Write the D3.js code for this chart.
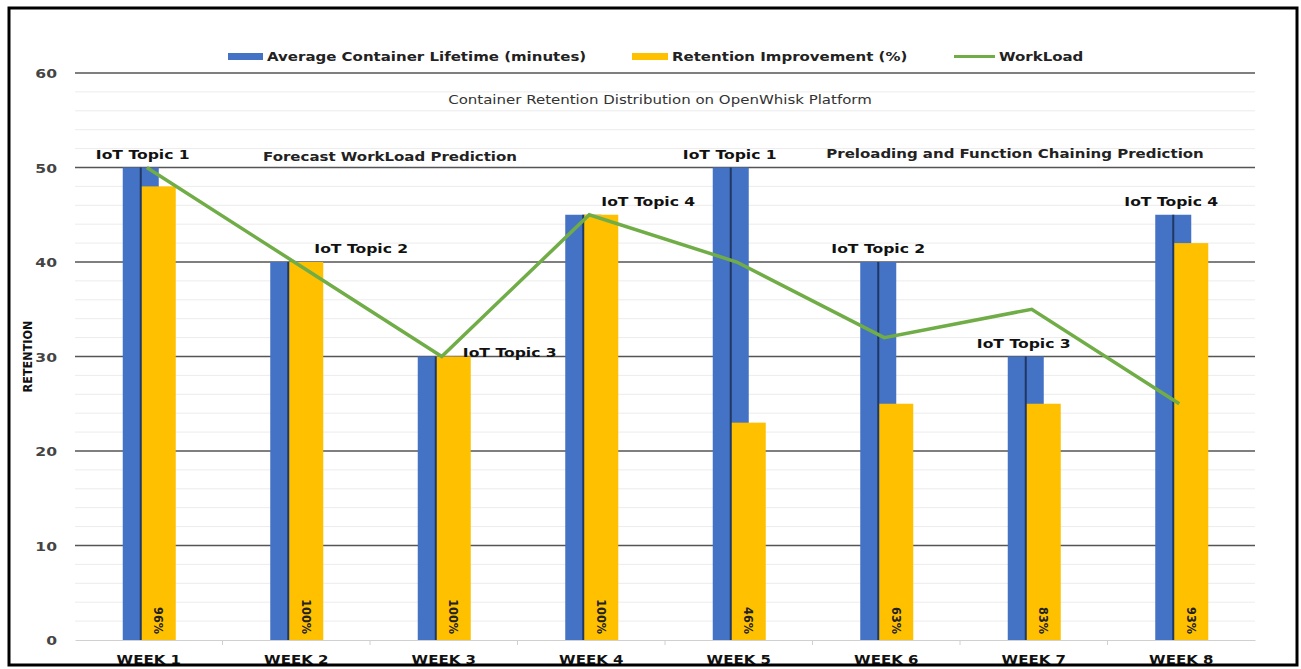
<!DOCTYPE html>
<html>
<head>
<meta charset="utf-8">
<script src="https://cdn.jsdelivr.net/npm/d3@7"></script>
<style>
  body { margin: 0; background: #fff; }
  svg { display: block; font-family: 'DejaVu Sans', Verdana, sans-serif; }
</style>
</head>
<body>
<script>
// data
const weeks = ["WEEK 1", "WEEK 2", "WEEK 3", "WEEK 4", "WEEK 5", "WEEK 6", "WEEK 7", "WEEK 8"];
const lifetime = [50, 40, 30, 45, 50, 40, 30, 45];
const improvement = [48, 40, 30, 45, 23, 25, 25, 42];
const improvementLabels = ["96%", "100%", "100%", "100%", "46%", "63%", "83%", "93%"];
const workload = [50, 40, 30, 45, 40, 32, 35, 25];
const topics = ["IoT Topic 1", "IoT Topic 2", "IoT Topic 3", "IoT Topic 4", "IoT Topic 1", "IoT Topic 2", "IoT Topic 3", "IoT Topic 4"];
const yTicks = [0, 10, 20, 30, 40, 50, 60];

const width = 1301, height = 669;
const margin = {top: 73, right: 46, bottom: 29, left: 75};
const blue = "#4472c4", yellow = "#ffc000", green = "#70ad47";
const stretch = 1.2; // the original text is drawn wide

const svg = d3.select("body").append("svg")
  .attr("width", width)
  .attr("height", height);

const x = d3.scaleBand()
  .domain(weeks)
  .range([margin.left, width - margin.right]);

const y = d3.scaleLinear()
  .domain([0, 60])
  .range([height - margin.bottom, margin.top]);

const xc = d => x(d) + x.bandwidth() / 2;

// wide text helper
function wideText(parent, px, py, str, size, weight, anchor, fill) {
  return parent.append("text")
    .attr("transform", `translate(${px},${py}) scale(${stretch},1)`)
    .attr("text-anchor", anchor)
    .attr("font-size", size)
    .attr("font-weight", weight)
    .attr("fill", fill)
    .text(str);
}

// minor gridlines
svg.append("g")
  .selectAll("line")
  .data(d3.range(2, 60, 2).filter(v => v % 10 !== 0))
  .join("line")
  .attr("x1", margin.left)
  .attr("x2", width - margin.right)
  .attr("y1", d => y(d))
  .attr("y2", d => y(d))
  .attr("stroke", "#ececec")
  .attr("stroke-width", 1);

// major gridlines
svg.append("g")
  .selectAll("line")
  .data(yTicks.filter(v => v > 0))
  .join("line")
  .attr("x1", margin.left)
  .attr("x2", width - margin.right)
  .attr("y1", d => y(d))
  .attr("y2", d => y(d))
  .attr("stroke", "#555")
  .attr("stroke-width", 1.3);

// x axis
const xAxis = svg.append("g")
  .attr("transform", `translate(0,${y(0)})`)
  .call(d3.axisBottom(x).tickSize(0).tickFormat(""));
xAxis.select(".domain").attr("stroke", "#d0d0d0");
const xLabels = svg.append("g");
weeks.forEach(w => wideText(xLabels, xc(w), y(0) + 24, w, 12.5, "bold", "middle", "#111"));

svg.append("g")
  .selectAll("line")
  .data(weeks.slice(1))
  .join("line")
  .attr("x1", d => x(d))
  .attr("x2", d => x(d))
  .attr("y1", y(0))
  .attr("y2", y(0) + 5)
  .attr("stroke", "#d0d0d0");

// y axis labels
const yLabels = svg.append("g");
yTicks.forEach(v => wideText(yLabels, 57, y(v) + 5, v, 13, "bold", "end", "#444"));

svg.append("text")
  .attr("transform", `translate(32,${y(30)}) rotate(-90)`)
  .attr("text-anchor", "middle")
  .attr("font-size", 12.5)
  .attr("font-weight", "bold")
  .attr("font-family", "'Liberation Sans Narrow', 'DejaVu Sans Condensed', sans-serif")
  .attr("fill", "#111")
  .text("RETENTION");

// bars
svg.append("g")
  .selectAll("rect")
  .data(weeks)
  .join("rect")
  .attr("x", d => xc(d) - 26)
  .attr("width", 36)
  .attr("y", (d, i) => y(lifetime[i]))
  .attr("height", (d, i) => y(0) - y(lifetime[i]))
  .attr("fill", blue);

svg.append("g")
  .selectAll("rect")
  .data(weeks)
  .join("rect")
  .attr("x", d => xc(d) - 8)
  .attr("width", 35)
  .attr("y", (d, i) => y(improvement[i]))
  .attr("height", (d, i) => y(0) - y(improvement[i]))
  .attr("fill", yellow);

svg.append("g")
  .selectAll("line")
  .data(weeks)
  .join("line")
  .attr("x1", d => xc(d) - 8)
  .attr("x2", d => xc(d) - 8)
  .attr("y1", y(0))
  .attr("y2", (d, i) => y(lifetime[i]))
  .attr("stroke", "#1f3864")
  .attr("stroke-width", 2);

// rotated percentage labels
svg.append("g")
  .selectAll("text")
  .data(weeks)
  .join("text")
  .attr("transform", d => `translate(${xc(d) + 10},${y(0) - 6}) rotate(90)`)
  .attr("text-anchor", "end")
  .attr("dy", "0.35em")
  .attr("font-size", 12.5)
  .attr("font-weight", "bold")
  .attr("font-family", "'Liberation Sans Narrow', 'DejaVu Sans Condensed', sans-serif")
  .attr("fill", "#222")
  .text((d, i) => improvementLabels[i]);

// workload line
const line = d3.line()
  .x((d, i) => xc(weeks[i]) - 2)
  .y(d => y(d));

svg.append("path")
  .datum(workload)
  .attr("fill", "none")
  .attr("stroke", green)
  .attr("stroke-width", 3.5)
  .attr("d", line);

// topic labels (Excel data labels, positioned by hand)
const topicPos = [
  {dx: -6, v: 50, dy: -9},
  {dx: 65, v: 40, dy: -9},
  {dx: 66, v: 30, dy: 0},
  {dx: 57, v: 45, dy: -9},
  {dx: -9, v: 50, dy: -9},
  {dx: -8, v: 40, dy: -9},
  {dx: -10, v: 30, dy: -9},
  {dx: -10, v: 45, dy: -9}
];
const topicG = svg.append("g");
weeks.forEach((w, i) => wideText(topicG, xc(w) + topicPos[i].dx, y(topicPos[i].v) + topicPos[i].dy,
  topics[i], 13, "bold", "middle", "#111"));

// annotations
wideText(svg, 660, 104, "Container Retention Distribution on OpenWhisk Platform", 12.5, "normal", "middle", "#333");
wideText(svg, 390, 161, "Forecast WorkLoad Prediction", 12.5, "bold", "middle", "#222");
wideText(svg, 1015, 158, "Preloading and Function Chaining Prediction", 12.5, "bold", "middle", "#222");

// legend
const legendItems = [
  {label: "Average Container Lifetime (minutes)", color: blue, type: "rect", x: 228, w: 35},
  {label: "Retention Improvement (%)", color: yellow, type: "rect", x: 632, w: 36},
  {label: "WorkLoad", color: green, type: "line", x: 954, w: 41}
];
const legend = svg.append("g");
legendItems.forEach(d => {
  legend.append("rect")
    .attr("x", d.x)
    .attr("y", d.type === "rect" ? 53 : 55)
    .attr("width", d.w)
    .attr("height", d.type === "rect" ? 7 : 3)
    .attr("fill", d.color);
  wideText(legend, d.x + d.w + 4, 61, d.label, 12.5, "bold", "start", "#222");
});

// outer frame
svg.append("rect")
  .attr("x", 9).attr("y", 8)
  .attr("width", 1288).attr("height", 657)
  .attr("fill", "none")
  .attr("stroke", "#000")
  .attr("stroke-width", 3);
</script>
</body>
</html>
